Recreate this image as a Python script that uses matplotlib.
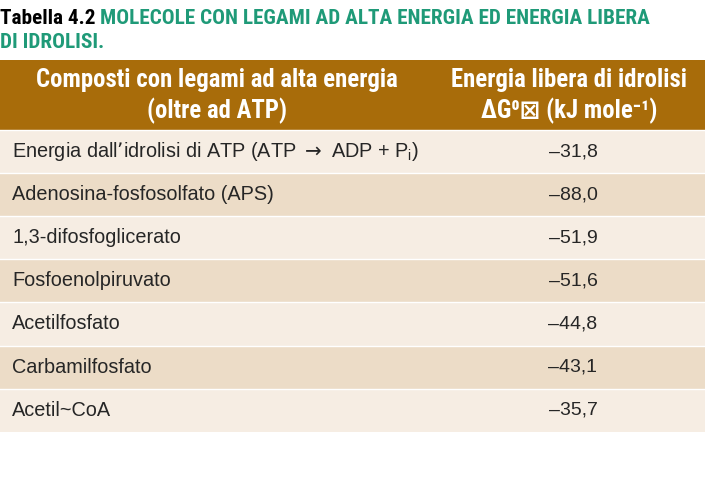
import matplotlib
matplotlib.use('Agg')
import matplotlib.pyplot as plt

TITLE_LABEL = 'Tabella 4.2'
TITLE_LINE1 = 'MOLECOLE CON LEGAMI AD ALTA ENERGIA ED ENERGIA LIBERA'
TITLE_LINE2 = 'DI IDROLISI.'
HEADERS = ['Composti con legami ad alta energia\n(oltre ad ATP)',
           'Energia libera di idrolisi\nΔG⁰⊠ (kJ mole⁻¹)']
COMPOUNDS = [
    r'Energia dall’idrolisi di ATP (ATP $\rightarrow$ ADP + P$_\mathregular{i}$)',
    'Adenosina-fosfosolfato (APS)',
    '1,3-difosfoglicerato',
    'Fosfoenolpiruvato',
    'Acetilfosfato',
    'Carbamilfosfato',
    'Acetil~CoA',
]
VALUES = ['–31,8', '–88,0', '–51,9', '–51,6', '–44,8', '–43,1', '–35,7']

HEADER_COLOR = '#a86c0a'
ROW_LIGHT = '#f6ede3'
ROW_DARK = '#ecdcc7'
TEAL = '#1f9a78'
TEXT = '#262626'

BODY = ['Liberation Sans', 'DejaVu Sans']
COND = ['Roboto Condensed', 'DejaVu Sans']

fig = plt.figure(figsize=(7.05, 4.82), dpi=100)
ax = fig.add_axes([0, 0, 1, 1])
ax.set_xlim(0, 705)
ax.set_ylim(482, 0)
ax.axis('off')

# title: black label, teal caption
t = ax.text(0, 18, TITLE_LABEL + ' ', fontsize=15.3, fontweight='bold',
            family=COND, color='black', va='center')
fig.canvas.draw()
x1 = ax.transData.inverted().transform((t.get_window_extent().x1, 0))[0]
ax.text(x1, 18, TITLE_LINE1, fontsize=15.3, fontweight='bold',
        family=COND, color=TEAL, va='center')
ax.text(0, 43, TITLE_LINE2, fontsize=15.3, fontweight='bold',
        family=COND, color=TEAL, va='center')

# header band
top, head_h, row_h = 60, 70, 43.1
ax.axhspan(top, top + head_h, color=HEADER_COLOR, lw=0)
for xc, label in zip([217, 569], HEADERS):
    ax.text(xc, top + head_h / 2 + 1, label, ha='center', va='center',
            fontsize=17.8, fontweight='bold', family=COND, color='white',
            linespacing=1.25)

# rows
for i, (name, val) in enumerate(zip(COMPOUNDS, VALUES)):
    y0 = top + head_h + i * row_h
    ax.axhspan(y0, y0 + row_h, color=ROW_LIGHT if i % 2 == 0 else ROW_DARK, lw=0)
    ax.axhline(y0, color='white', lw=1)
    yc = y0 + row_h / 2
    ax.text(12, yc, name, va='center', fontsize=14.3, family=BODY, color=TEXT)
    ax.text(573, yc, val, va='center', ha='center', fontsize=14, family=BODY,
            color=TEXT)

fig.savefig('out.png', dpi=100, facecolor='white')
